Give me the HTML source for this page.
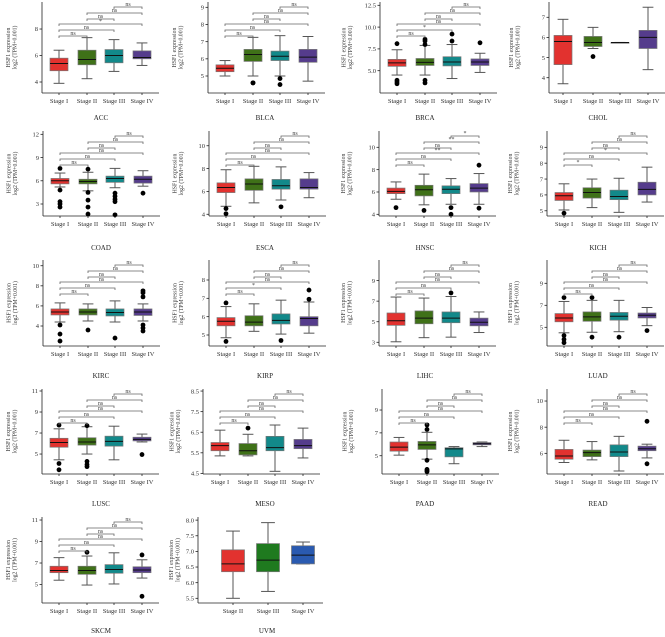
<!DOCTYPE html>
<html><head><meta charset="utf-8"><style>
html,body{margin:0;padding:0;background:#fff;}
svg{display:block;font-family:"Liberation Serif",serif;}
</style></head><body>
<svg id="chart" width="665" height="637" viewBox="0 0 665 637" xmlns="http://www.w3.org/2000/svg"></svg>
<script>
// ---- data ----
const panelTitles = ["ACC","BLCA","BRCA","CHOL","COAD","ESCA","HNSC","KICH","KIRC","KIRP","LIHC","LUAD","LUSC","MESO","PAAD","READ","SKCM","UVM"];
const stageLabels = ["Stage I","Stage II","Stage III","Stage IV"];
const uvmStages = ["Stage II","Stage III","Stage IV"];
const panelTicks = [
 [4,6,8],[5,6,7,8,9],[5,7.5,10,12.5],[4,5,6,7],
 [3,6,9,12],[4,6,8,10],[4,6,8,10],[5,6,7,8,9],
 [4,6,8,10],[5,6,7,8],[3,5,7,9],[5,7,9],
 [5,7,9,11],[4.5,5.5,6.5,7.5,8.5],[5,7,9],[6,8,10],
 [5,7,9,11],[5.5,6,6.5,7,7.5,8]
];
const panelDomains = [
 [3.17,10.04],[4.01,9.31],[2.44,12.88],[3.24,7.76],
 [1.45,12.43],[3.85,11.29],[3.85,11.46],[4.67,10.03],
 [2.01,10.57],[4.4,9.09],[2.64,11.0],[3.3,11.12],
 [3.1,11.19],[4.47,8.6],[3.4,10.84],[4.42,10.92],
 [3.28,11.28],[5.35,8.1]
];
// [whiskerLow, q1, median, q3, whiskerHigh]
const boxStats = [
 [[3.9,4.85,5.4,5.8,6.4],[4.25,5.3,5.7,6.4,7.35],[4.8,5.45,6.0,6.45,7.2],[5.25,5.75,5.85,6.35,6.95]],
 [[5.0,5.25,5.45,5.65,5.9],[5.0,5.85,6.25,6.55,7.25],[5.0,5.9,6.15,6.45,7.35],[4.7,5.8,6.1,6.55,7.3]],
 [[4.5,5.5,5.9,6.3,7.4],[4.5,5.6,5.95,6.4,7.9],[4.1,5.55,6.0,6.6,8.0],[4.8,5.6,6.0,6.35,7.0]],
 [[3.7,4.65,5.8,6.1,6.9],[5.45,5.55,5.75,6.05,6.5],[5.75,5.75,5.75,5.75,5.75],[4.4,5.45,6.0,6.35,7.5]],
 [[5.2,5.6,6.0,6.3,7.0],[4.7,5.6,5.9,6.2,7.1],[5.1,5.8,6.3,6.6,7.6],[5.3,5.7,6.2,6.6,7.3]],
 [[4.7,5.9,6.35,6.75,7.9],[5.0,6.1,6.65,7.1,8.2],[5.25,6.2,6.5,7.05,8.15],[5.45,6.2,6.35,7.1,7.65]],
 [[5.35,5.85,6.05,6.35,6.9],[4.85,5.65,6.2,6.6,7.6],[4.9,5.85,6.25,6.55,7.2],[4.9,6.0,6.35,6.75,7.65]],
 [[5.05,5.65,5.95,6.15,6.7],[5.2,5.8,6.15,6.45,7.0],[4.9,5.7,5.9,6.3,7.05],[5.55,6.0,6.35,6.8,7.75]],
 [[4.4,5.1,5.4,5.7,6.3],[4.5,5.1,5.4,5.7,6.2],[4.4,5.0,5.35,5.7,6.5],[4.5,5.05,5.4,5.7,6.2]],
 [[4.85,5.5,5.75,5.95,6.55],[5.2,5.5,5.7,6.05,6.7],[5.05,5.6,5.8,6.15,6.9],[5.1,5.5,5.9,6.0,6.8]],
 [[3.05,4.65,5.1,5.85,7.4],[3.45,4.8,5.35,6.05,7.3],[3.5,4.9,5.35,5.95,7.45],[3.95,4.6,4.95,5.35,5.95]],
 [[4.5,5.5,5.85,6.25,7.35],[4.55,5.55,5.95,6.4,7.45],[4.6,5.65,6.0,6.35,7.45],[5.15,5.85,6.1,6.3,6.8]],
 [[4.45,5.65,6.1,6.5,7.4],[5.0,5.85,6.15,6.55,7.6],[4.45,5.75,6.2,6.7,7.65],[6.15,6.25,6.4,6.6,6.9]],
 [[5.35,5.6,5.85,6.0,6.6],[5.35,5.4,5.6,5.95,6.4],[4.6,5.6,5.75,6.3,6.85],[5.25,5.7,5.85,6.15,6.7]],
 [[5.05,5.4,5.75,6.2,6.6],[4.7,5.55,5.95,6.25,7.05],[4.3,4.9,5.6,5.7,5.8],[5.8,5.95,6.05,6.15,6.2]],
 [[5.3,5.55,5.8,6.3,7.0],[5.5,5.75,6.05,6.25,6.9],[4.65,5.75,6.1,6.65,7.3],[5.65,6.2,6.35,6.55,6.7]],
 [[5.4,6.1,6.3,6.7,7.5],[4.95,5.95,6.3,6.7,7.65],[5.05,6.05,6.4,6.85,7.95],[5.6,6.1,6.35,6.65,7.3]],
 [[5.5,6.35,6.6,7.05,7.65],[5.72,6.35,6.72,7.25,7.92],[6.6,6.6,6.88,7.18,7.3]]
];
const outlierValues = [
 [[],[],[],[]],
 [[],[4.6,4.6],[4.85,4.5],[]],
 [[8.1,3.9,3.7,3.5],[8.6,8.4,8.0,3.9,3.6],[9.2,8.4],[8.2]],
 [[],[5.05],[],[]],
 [[7.6,4.8,3.3,3.0,2.6],[7.5,4.5,3.5,2.6,1.7],[4.4,4.0,3.6,3.3,1.6],[4.4]],
 [[4.5,4.05],[],[4.65],[]],
 [[4.6],[4.35],[4.6,4.0],[8.4,4.55]],
 [[4.85],[],[],[]],
 [[4.1,3.2,2.5],[3.6],[2.8],[7.5,7.3,6.9,4.1,3.8,3.5]],
 [[6.75,4.65],[],[4.7],[7.45,6.95]],
 [[],[],[7.8],[]],
 [[7.7,4.25,3.9,3.6],[7.7,4.1],[4.1],[4.7]],
 [[7.75,4.1,3.5],[7.7,4.3,4.0,3.8],[],[4.95]],
 [[],[6.7],[],[]],
 [[],[7.7,7.3,4.6,3.8,3.7,3.6],[],[]],
 [[],[],[],[8.45,5.2]],
 [[],[8.0],[],[7.75,3.9]],
 [[],[],[]]
];
// significance labels for pairs I-II, I-III, I-IV, II-III, II-IV, III-IV
const bracketLabels = [
 ["ns","ns","*","ns","ns","ns"],["ns","ns","ns","ns","ns","ns"],["ns","*","ns","ns","ns","ns"],null,
 ["ns","ns","ns","ns","ns","ns"],["ns","ns","ns","ns","ns","ns"],["ns","ns","**","ns","**","*"],["*","ns","*","ns","ns","ns"],
 ["ns","ns","ns","ns","ns","ns"],["ns","*","ns","ns","ns","ns"],["ns","ns","ns","ns","ns","ns"],["ns","ns","ns","ns","ns","ns"],
 ["ns","ns","ns","ns","ns","ns"],["ns","ns","ns","ns","ns","ns"],["ns","ns","ns","ns","ns","ns"],["ns","ns","ns","ns","ns","ns"],
 ["ns","ns","ns","ns","ns","ns"],null
];
// ---- layout ----
const rowTop=[0,129,258,387,515], rowAxis=[93,216,346,474,603], rowTitle=[120,250,378,506,633];
const colX=[0,166,333,499], colTitleX=[101,265,425,598];
const axisOff=[42,42,47,50, 43,43,46,48, 43,43,46,48, 42,37,49,48, 42,32];
const colors4=["#e2322f","#3f7118","#12898a","#553c8c"], colors3=["#e2322f","#1f7a1f","#2a5ab0"];
const pairs=[[0,1],[0,2],[0,3],[1,2],[1,3],[2,3]], pairOff=[36,30,24,19,13,7];
const svg=document.getElementById('chart'), NS="http://www.w3.org/2000/svg";
function mk(tag,attrs,parent){const e=document.createElementNS(NS,tag);for(const k in attrs)e.setAttribute(k,attrs[k]);(parent||svg).appendChild(e);return e;}
function txt(s,attrs,parent){const e=mk('text',attrs,parent);e.textContent=s;return e;}
panelTitles.forEach((title,p)=>{
  const c=p%4, r=Math.floor(p/4), ox=colX[c];
  const g=mk('g',{});
  
  
  const ax=ox+axisOff[p], bottom=rowAxis[r], top=rowTop[r]+2;
  const [lo,hi]=panelDomains[p];
  const y=v=>bottom-(v-lo)/(hi-lo)*(bottom-top);
  const isUvm=title==="UVM";
  const centers=isUvm?[35,70,105]:(title==="CHOL"?[14,44,71,99]:[17,45,72,100]);
  const bw=isUvm?23:18;
  const xEnd=ax+(isUvm?125:117);
  const yA=mk('line',{x1:ax,y1:top,x2:ax,y2:bottom,stroke:'#222','stroke-width':0.8},g);
  
  
  const xA=mk('line',{x1:ax,y1:bottom,x2:xEnd,y2:bottom,stroke:'#222','stroke-width':0.8},g);
  
  
  panelTicks[p].forEach(t=>{
    const yy=y(t);
    mk('line',{x1:ax-2.5,y1:yy,x2:ax,y2:yy,stroke:'#222','stroke-width':0.8},g);
    const lbl=(title==="BRCA"||isUvm)?t.toFixed(1):String(t);
    const tl=txt(lbl,{x:ax-4,y:yy+2.2,'font-size':6.5,'text-anchor':'end',fill:'#333'},g);
    
    
  });
  const cy=(top+bottom)/2, lx=ox+(isUvm?12:10)+(axisOff[p]-42)*0.5;
  const yt=txt('HSF1 expression',{x:0,y:0,'font-size':5.8,'text-anchor':'middle',fill:'#333',transform:`translate(${lx},${cy}) rotate(-90)`},g);
  
  
  const yt2=txt('log2 (TPM+0.001)',{x:0,y:0,'font-size':5.8,'text-anchor':'middle',fill:'#333',transform:`translate(${lx+6.5},${cy}) rotate(-90)`},g);
  
  
  const labels=isUvm?uvmStages:stageLabels;
  boxStats[p].forEach((s,i)=>{
    const cx=ax+centers[i], col=(isUvm?colors3:colors4)[i];
    const bg=mk('g',{},g);
    
    
    mk('line',{x1:cx,y1:y(s[0]),x2:cx,y2:y(s[4]),stroke:'#555','stroke-width':1},bg);
    mk('line',{x1:cx-bw*0.3,y1:y(s[0]),x2:cx+bw*0.3,y2:y(s[0]),stroke:'#555','stroke-width':1},bg);
    mk('line',{x1:cx-bw*0.3,y1:y(s[4]),x2:cx+bw*0.3,y2:y(s[4]),stroke:'#555','stroke-width':1},bg);
    mk('rect',{x:cx-bw/2,y:y(s[3]),width:bw,height:Math.max(0.8,y(s[1])-y(s[3])),fill:col,stroke:'#777','stroke-width':0.7},bg);
    mk('line',{x1:cx-bw/2,y1:y(s[2]),x2:cx+bw/2,y2:y(s[2]),stroke:'#111','stroke-width':1},bg);
    outlierValues[p][i].forEach(v=>{
      const d=mk('circle',{cx:cx,cy:y(v),r:2.4,fill:'#000'},bg);
      
      
    });
    mk('line',{x1:cx,y1:bottom,x2:cx,y2:bottom+2,stroke:'#222','stroke-width':0.8},g);
    const xl=txt(labels[i],{x:cx,y:bottom+10,'font-size':6.5,'text-anchor':'middle',fill:'#333'},g);
    
    
  });
  if(bracketLabels[p]){
    pairs.forEach((pr,k)=>{
      const by=rowTop[r]+pairOff[k], x1=ax+centers[pr[0]], x2=ax+centers[pr[1]];
      const bk=mk('g',{},g);
      
      
      mk('path',{d:`M${x1},${by+2}V${by}H${x2}V${by+2}`,fill:'none',stroke:'#666','stroke-width':0.8},bk);
      txt(bracketLabels[p][k],{x:(x1+x2)/2,y:by-1,'font-size':6,'text-anchor':'middle',fill:'#444'},bk);
    });
  }
  const tt=txt(title,{x:colTitleX[c]-(isUvm?-2:0),y:rowTitle[r],'font-size':7,'text-anchor':'middle',fill:'#222'},g);
  
  
});
</script>
</body></html>
